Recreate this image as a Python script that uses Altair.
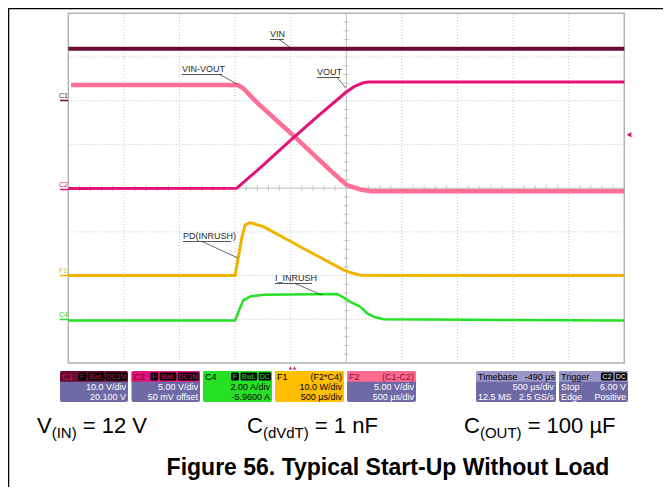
import altair as alt
import pandas as pd

# ---------------- data: x in divisions (500 us/div), y in screen divisions ----------------
vin_t = [0.0, 10.0]
vin_v = [7.19, 7.19]

vout_t = [0.0, 3.03, 3.5, 4.0, 4.5, 5.0, 5.15, 5.3, 5.4, 10.0]
vout_v = [3.99, 4.0, 4.52, 5.1, 5.66, 6.2, 6.33, 6.41, 6.43, 6.43]

vinvout_t = [0.05, 3.05, 3.15, 3.4, 4.05, 4.77, 5.01, 5.25, 5.45, 10.0]
vinvout_v = [6.36, 6.36, 6.28, 5.95, 5.2, 4.34, 4.07, 3.97, 3.93, 3.93]

pd_t = [0.0, 3.0, 3.05, 3.12, 3.18, 3.27, 3.51, 4.23, 4.95, 5.07, 5.25, 10.0]
pd_v = [2.0, 2.0, 2.36, 2.86, 3.16, 3.21, 3.12, 2.62, 2.13, 2.07, 2.01, 2.0]

iin_t = [0.0, 3.0, 3.06, 3.15, 3.27, 3.51, 4.83, 4.92, 5.07, 5.25, 5.37, 5.49, 5.67, 10.0]
iin_v = [0.97, 0.97, 1.17, 1.44, 1.52, 1.56, 1.58, 1.52, 1.40, 1.29, 1.14, 1.06, 1.0, 0.97]

n_xdiv = 10
n_ydiv = 8

# ---------------- layout ----------------
W, H = 655, 479
X0, XD = 60.3, 55.6     # local px of div 0 and px per division
Y0, YD = 355.0, 43.71
xs = alt.Scale(domain=[-X0 / XD, (W - X0) / XD], nice=False, zero=False)
ys = alt.Scale(domain=[-(H - Y0) / YD, Y0 / YD], nice=False, zero=False)
FONT = "Liberation Sans"

MAROON = "#6b0b34"
MAGENTA = "#e2127b"
PINK = "#ff6e97"
YELLOW = "#f2b300"
GREEN = "#25e025"
BODY = "#6f6aa6"
LAV = "#9a96c8"

L = []


def P(v):
    return v - 8


def rule(x1, y1, x2, y2, color, w=1.0, dash=None):
    kw = dict(color=color, strokeWidth=w)
    if dash:
        kw["strokeDash"] = dash
    L.append(alt.Chart(pd.DataFrame({"a": [0]})).mark_rule(**kw).encode(
        x=alt.value(P(x1)), y=alt.value(P(y1)), x2=alt.value(P(x2)), y2=alt.value(P(y2))))


def rect(x1, y1, x2, y2, fill, r=0):
    L.append(alt.Chart(pd.DataFrame({"a": [0]})).mark_rect(fill=fill, cornerRadius=r).encode(
        x=alt.value(P(x1)), y=alt.value(P(y1)), x2=alt.value(P(x2)), y2=alt.value(P(y2))))


def text(x, y, s, size=10, color="black", align="left", weight="normal", font=FONT):
    L.append(alt.Chart(pd.DataFrame({"a": [0]})).mark_text(
        text=s, fontSize=size, color=color, align=align, baseline="alphabetic",
        fontWeight=weight, font=font).encode(x=alt.value(P(x)), y=alt.value(P(y))))


def line(t, v, color, w):
    df = pd.DataFrame({"t": t, "v": v, "o": list(range(len(t)))})
    L.append(alt.Chart(df).mark_line(color=color, strokeWidth=w, strokeJoin="round").encode(
        x=alt.X("t:Q", scale=xs, axis=None), y=alt.Y("v:Q", scale=ys, axis=None), order="o:Q"))


# ---------------- outer frame ----------------
rule(8.5, 8, 8.5, 495, "black", 1.5)
rule(8, 8.5, 671, 8.5, "black", 1.5)

# ---------------- graticule ----------------
gv = pd.DataFrame({"t": [i for i in range(1, n_xdiv) if i != 5], "a": 0, "b": n_ydiv})
L.append(alt.Chart(gv).mark_rule(color="#c4c4c4", strokeWidth=1, strokeDash=[1, 2]).encode(
    x=alt.X("t:Q", scale=xs, axis=None), y=alt.Y("a:Q", scale=ys, axis=None), y2="b:Q"))
gh = pd.DataFrame({"v": [i for i in range(1, n_ydiv) if i != 4], "a": 0, "b": n_xdiv})
L.append(alt.Chart(gh).mark_rule(color="#c4c4c4", strokeWidth=1, strokeDash=[1, 2]).encode(
    y=alt.Y("v:Q", scale=ys, axis=None), x=alt.X("a:Q", scale=xs, axis=None), x2="b:Q"))
# centre axes
cv = pd.DataFrame({"t": [5], "a": 0, "b": n_ydiv})
L.append(alt.Chart(cv).mark_rule(color="#bdbdbd", strokeWidth=1).encode(
    x=alt.X("t:Q", scale=xs, axis=None), y=alt.Y("a:Q", scale=ys, axis=None), y2="b:Q"))
ch = pd.DataFrame({"v": [4], "a": 0, "b": n_xdiv})
L.append(alt.Chart(ch).mark_rule(color="#bdbdbd", strokeWidth=1).encode(
    y=alt.Y("v:Q", scale=ys, axis=None), x=alt.X("a:Q", scale=xs, axis=None), x2="b:Q"))
tx = pd.DataFrame({"t": [k * 0.2 for k in range(1, 50) if k % 5], "v": 4})
L.append(alt.Chart(tx).mark_tick(orient="vertical", size=6, thickness=1, color="#b5b5b5").encode(
    x=alt.X("t:Q", scale=xs, axis=None), y=alt.Y("v:Q", scale=ys, axis=None)))
ty = pd.DataFrame({"v": [k * 0.2 for k in range(1, 40) if k % 5], "t": 5})
L.append(alt.Chart(ty).mark_tick(orient="horizontal", size=6, thickness=1, color="#b5b5b5").encode(
    x=alt.X("t:Q", scale=xs, axis=None), y=alt.Y("v:Q", scale=ys, axis=None)))
# border
bd = pd.DataFrame({"a": [0], "b": [n_xdiv], "c": [0], "d": [n_ydiv]})
L.append(alt.Chart(bd).mark_rect(fill=None, fillOpacity=0, stroke="#b3b3b3", strokeWidth=1.5).encode(
    x=alt.X("a:Q", scale=xs, axis=None), x2="b:Q", y=alt.Y("c:Q", scale=ys, axis=None), y2="d:Q"))

# ---------------- traces ----------------
line(vin_t, vin_v, MAROON, 4)
line(vinvout_t, vinvout_v, PINK, 4.5)
line(vout_t, vout_v, MAGENTA, 3)
line(pd_t, pd_v, YELLOW, 3)
line(iin_t, iin_v, GREEN, 2.5)

# ---------------- trace annotations ----------------
LBL = "#2a2a2a"
text(270, 37, "VIN", 9, LBL)
rule(270, 39.5, 284, 39.5, LBL, 0.8)
rule(279, 39.5, 291, 48, LBL, 0.7)
text(182, 72, "VIN-VOUT", 9, LBL)
rule(182, 74.5, 222, 74.5, LBL, 0.8)
rule(220, 74.5, 237, 84, LBL, 0.7)
text(317, 75, "VOUT", 9, LBL)
rule(317, 77.5, 340, 77.5, LBL, 0.8)
rule(337, 77.5, 346, 88, LBL, 0.7)
text(183, 239, "PD(INRUSH)", 9, LBL)
rule(183, 241.5, 231, 241.5, LBL, 0.8)
rule(202, 241.5, 238, 258, LBL, 0.7)
text(275, 281, "I_INRUSH", 9, LBL)
rule(275, 283.5, 312, 283.5, LBL, 0.8)
rule(295, 283.5, 322, 295, LBL, 0.7)

# channel ground markers on the left
for lab, yy, col in [("C1", 100, MAROON), ("C2", 189, MAGENTA), ("F1", 275, YELLOW), ("C4", 319, GREEN)]:
    text(59, yy - 2, lab, 7, col)
    rule(60, yy + 0.5, 68, yy + 0.5, col, 1.5)

# trigger level and trigger position markers
L.append(alt.Chart(pd.DataFrame({"a": [0]})).mark_point(shape="triangle-left", filled=True, size=30, color=MAGENTA, opacity=1).encode(
    x=alt.value(P(629)), y=alt.value(P(134.7))))
for xx in (290.5, 294.5):
    L.append(alt.Chart(pd.DataFrame({"a": [0]})).mark_point(shape="triangle-up", filled=True, size=14, color=MAGENTA, opacity=1).encode(
        x=alt.value(P(xx)), y=alt.value(P(368))))

# ---------------- info boxes ----------------
TOP, HB, BOT = 371, 381.5, 402
R1, R2, R3 = 379.5, 390, 400
FS = 9


def tags(xr, items, txtcol, y1=372.5, y2=380.5):
    x = xr
    for s in reversed(items):
        w = 3.5 + 4.4 * len(s)
        rect(x - w, y1, x, y2, "black", 1.5)
        text(x - w / 2, R1 - 0.5, s, 7, txtcol, "center")
        x -= w + 1.5


def box(x1, x2, head, body, r=2):
    rect(x1, TOP, x2, BOT, body, r)
    rect(x1, TOP, x2, HB, head, r)
    rect(x1, HB - 2, x2, HB, head)


# C1
box(60, 128, MAROON, BODY)
text(62, R1, "C1", FS, "#c0144a")
tags(127, ["F", "BwL", "DC1M"], "#c0144a")
text(126, R2, "10.0 V/div", FS, "white", "right")
text(126, R3, "20.100 V", FS, "white", "right")
# C2
box(131.5, 200, MAGENTA, BODY)
text(133.5, R1, "C2", FS, "#6b0030")
tags(199, ["F", "BwL", "DC1M"], MAGENTA)
text(198, R2, "5.00 V/div", FS, "white", "right")
text(198, R3, "50 mV offset", FS, "white", "right")
# C4
box(203, 272, GREEN, GREEN)
text(205, R1, "C4", FS, "black")
tags(271, ["F", "BwL", "DC"], GREEN)
text(270, R2, "2.00 A/div", FS, "black", "right")
text(270, R3, "-5.9600 A", FS, "black", "right")
# F1
box(275, 344, "#ffbe00", "#ffbe00")
text(277, R1, "F1", FS, "black")
text(342, R1, "(F2*C4)", FS, "black", "right")
text(342, R2, "10.0 W/div", FS, "black", "right")
text(342, R3, "500 µs/div", FS, "black", "right")
# F2
box(347, 416, "#ff6b8f", BODY)
text(349, R1, "F2", FS, "#8a0a2c")
text(414, R1, "(C1-C2)", FS, "#8a0a2c", "right")
text(414, R2, "5.00 V/div", FS, "white", "right")
text(414, R3, "500 µs/div", FS, "white", "right")
# Timebase
box(476, 556, LAV, BODY)
text(478, R1, "Timebase", FS, "black")
text(555, R1, "-490 µs", FS, "black", "right")
text(554, R2, "500 µs/div", FS, "white", "right")
text(478, R3, "12.5 MS", FS, "white")
text(554, R3, "2.5 GS/s", FS, "white", "right")
# Trigger
box(559, 628, LAV, BODY)
text(561, R1, "Trigger", FS, "black")
tags(627, ["C2", "DC"], "white")
text(561, R2, "Stop", FS, "white")
text(626, R2, "6.00 V", FS, "white", "right")
text(561, R3, "Edge", FS, "white")
text(626, R3, "Positive", FS, "white", "right")

# ---------------- condition text with subscripts ----------------
AW = {"V": .667, "(": .333, ")": .333, "I": .278, "N": .722, " ": .278, "=": .584, "1": .556,
      "2": .556, "0": .556, "C": .722, "d": .556, "T": .611, "n": .556, "F": .611, "O": .778,
      "U": .722, "µ": .576}


def tw(s, size):
    return sum(AW.get(c, .556) for c in s) * size


MS, SS = 22, 15
for x0, a, b, c in [(37, "V", "(IN)", "= 12 V"), (247, "C", "(dVdT)", "= 1 nF"), (464, "C", "(OUT)", "= 100 µF")]:
    text(x0, 433, a, MS, "black")
    x1 = x0 + tw(a, MS)
    text(x1, 438, b, SS, "black")
    x2 = x1 + tw(b, SS) + tw(" ", MS)
    text(x2, 433, c, MS, "black")

text(388, 475, "Figure 56. Typical Start-Up Without Load", 23, "black", "center", "bold")

chart = alt.layer(*L).properties(
    width=W, height=H, padding=0, autosize=alt.AutoSizeParams(type="none")
).configure_view(stroke=None)

chart.save("out.html", embed_options={"renderer": "svg", "actions": False})
